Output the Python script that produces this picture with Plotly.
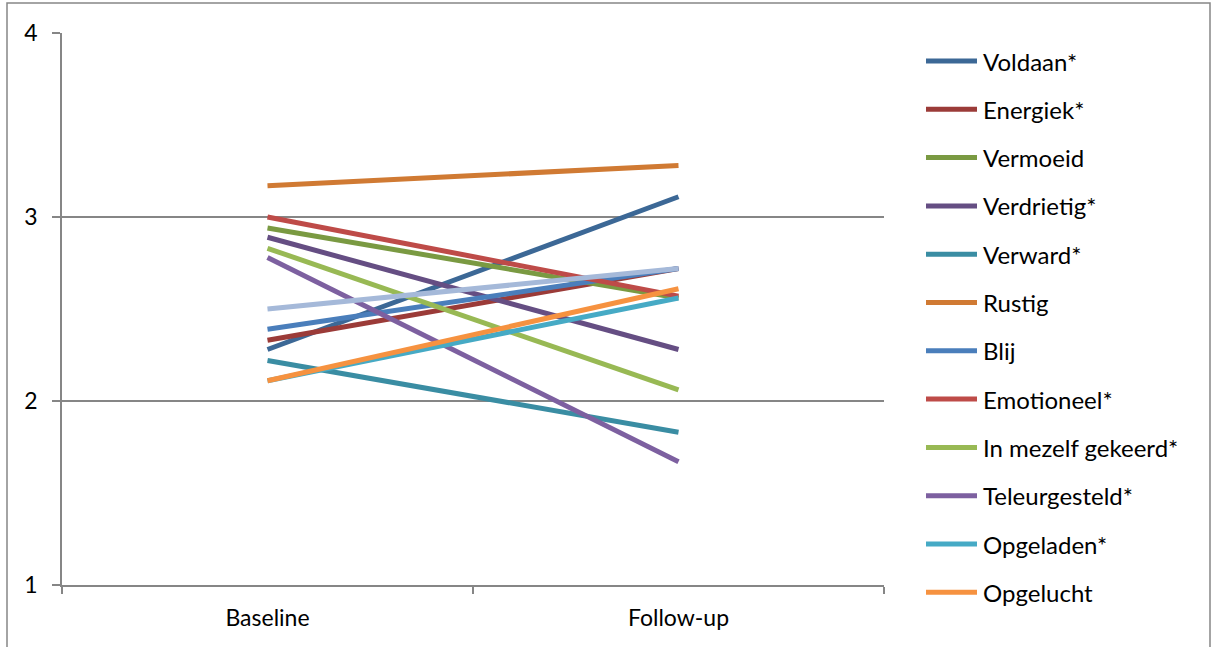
import plotly.graph_objects as go

categories = ["Baseline", "Follow-up"]

series_names = ["Voldaan*", "Energiek*", "Vermoeid", "Verdrietig*", "Verward*", "Rustig",
                "Blij", "Emotioneel*", "In mezelf gekeerd*", "Teleurgesteld*", "Opgeladen*", "Opgelucht",
                "Overig"]
baseline = [2.28, 2.33, 2.94, 2.89, 2.22, 3.17, 2.39, 3.00, 2.83, 2.78, 2.11, 2.11, 2.50]
followup = [3.11, 2.72, 2.56, 2.28, 1.83, 3.28, 2.72, 2.57, 2.06, 1.67, 2.56, 2.61, 2.72]
colors = ["#3C6896", "#9B3B38", "#7A9A42", "#654E83", "#3A8DA3", "#D07A33",
          "#4A7EBB", "#BE4B48", "#98B954", "#7D60A0", "#46AAC5", "#F69240",
          "#A5B9D9"]
in_legend = [True] * 12 + [False]

yticks = [1, 2, 3, 4]

W, H = 1213, 647
L, R, T, B = 62, 329, 33, 62
PW, PH = W - L - R, H - T - B


def px_to_paper_x(px):
    return (px - L) / PW


def px_to_paper_y(py):
    return (H - B - py) / PH


fig = go.Figure()
for i, name in enumerate(series_names):
    fig.add_trace(go.Scatter(
        x=categories, y=[baseline[i], followup[i]], mode="lines", name=name,
        line=dict(color=colors[i], width=5), showlegend=False,
    ))

axis_color = "#868686"
font_family = "Lato, 'Open Sans', sans-serif"

shapes = [dict(type="rect", xref="paper", yref="paper",
               x0=px_to_paper_x(7), x1=px_to_paper_x(1210),
               y0=px_to_paper_y(660), y1=px_to_paper_y(3),
               line=dict(color=axis_color, width=1.5))]
annotations = []
legend_names = [n for n, s in zip(series_names, in_legend) if s]
for i, name in enumerate(legend_names):
    yc = px_to_paper_y(61 + i * 48.3)
    shapes.append(dict(type="line", xref="paper", yref="paper",
                       x0=px_to_paper_x(926), x1=px_to_paper_x(977), y0=yc, y1=yc,
                       line=dict(color=colors[i], width=5)))
    annotations.append(dict(xref="paper", yref="paper", x=px_to_paper_x(981), y=yc,
                            xanchor="left", yanchor="middle", text=name, showarrow=False,
                            font=dict(family=font_family, size=24, color="black")))

fig.update_layout(
    width=W, height=H,
    margin=dict(l=L, r=R, t=T, b=B),
    paper_bgcolor="white", plot_bgcolor="white",
    font=dict(family=font_family, size=24, color="black"),
    showlegend=False,
    xaxis=dict(type="category", range=[-0.5, 1.5], tickson="boundaries",
               showgrid=False, showline=True, linecolor=axis_color, linewidth=1.5,
               ticks="outside", ticklen=7, tickcolor=axis_color, tickwidth=1.5,
               ticklabelstandoff=12, tickfont=dict(size=23)),
    yaxis=dict(range=[1, 4], tickvals=yticks, showgrid=True, gridcolor=axis_color, gridwidth=1.5,
               showline=True, linecolor=axis_color, linewidth=1.5,
               ticks="outside", ticklen=8, tickcolor=axis_color, tickwidth=1.5,
               ticklabelstandoff=10, zeroline=False, tickfont=dict(size=23)),
    shapes=shapes,
    annotations=annotations,
)

fig.write_html("out.html", config={"displayModeBar": False},
               post_script="document.body.style.margin='0';")
